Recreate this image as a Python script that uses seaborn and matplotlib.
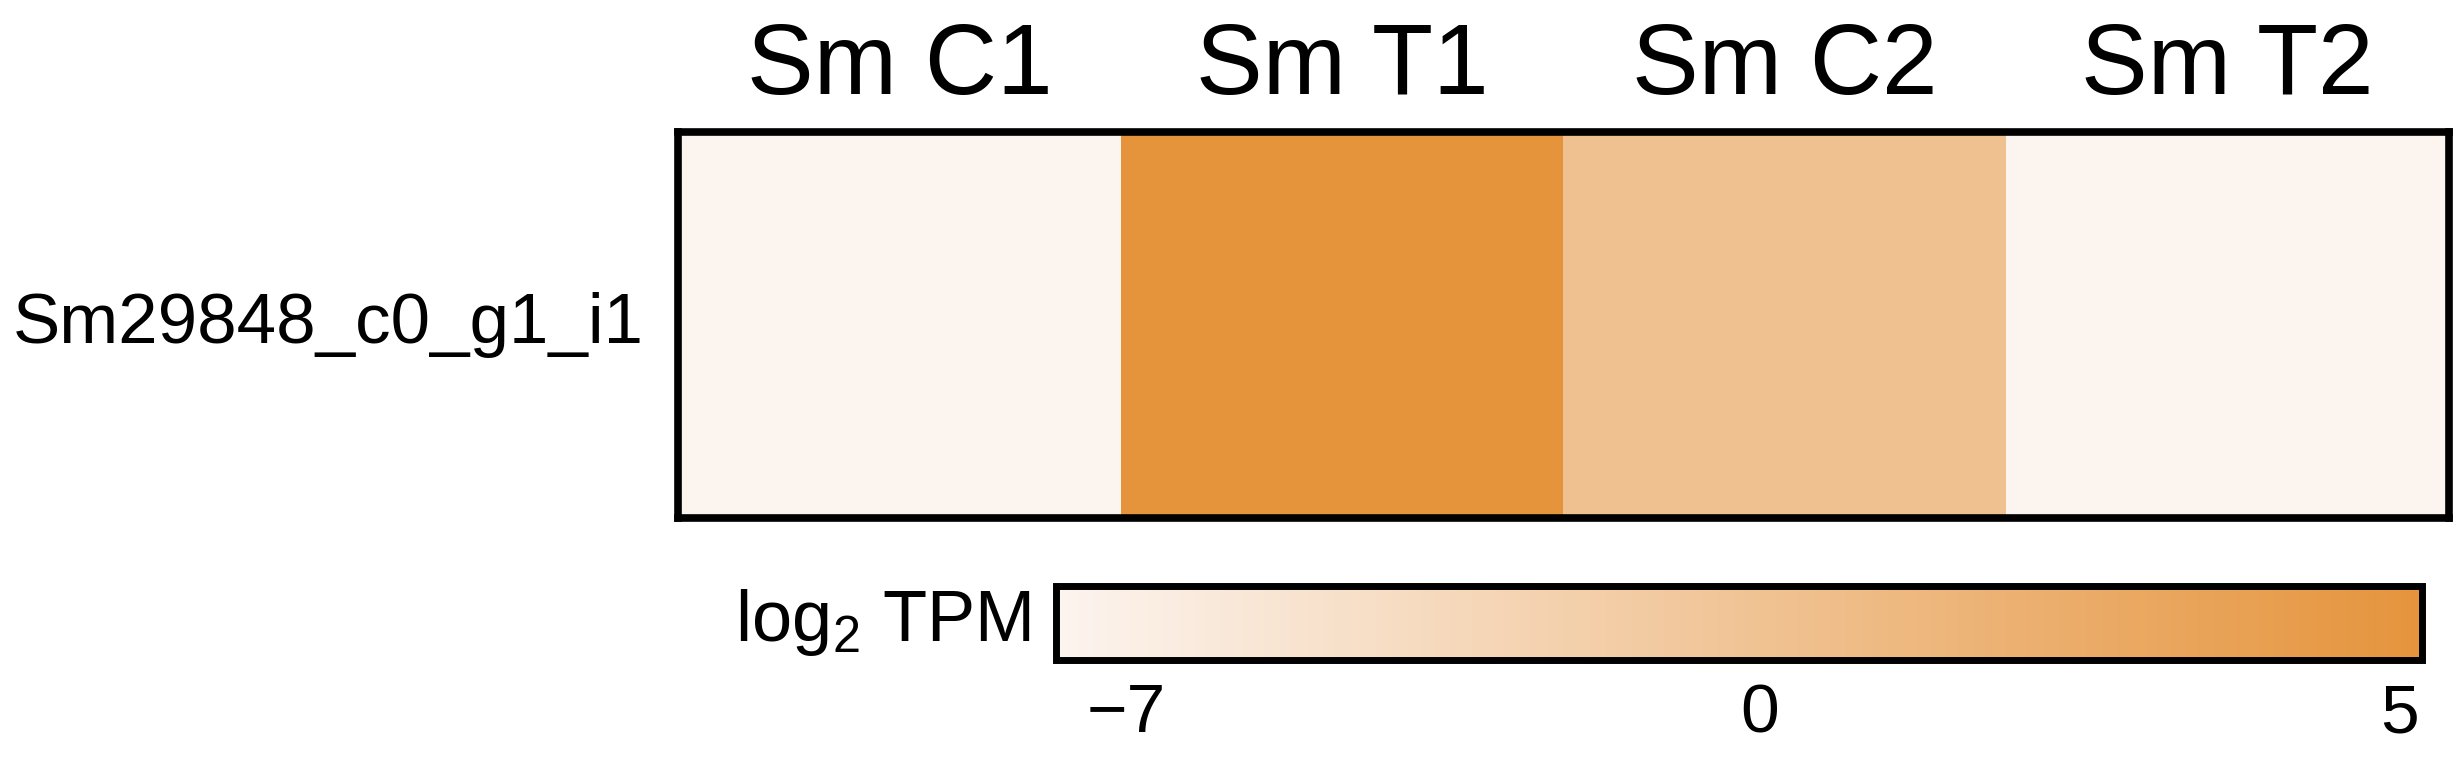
import matplotlib
matplotlib.use("Agg")
import matplotlib.pyplot as plt
from matplotlib.colors import LinearSegmentedColormap, TwoSlopeNorm
import pandas as pd
import seaborn as sns

samples = ["Sm C1", "Sm T1", "Sm C2", "Sm T2"]
genes = ["Sm29848_c0_g1_i1"]
log2_tpm = [-7.8, 5.2, 0.2, -7.8]
cbar_ticks = [-7, 0, 5]
cbar_ticklabels = ["\u22127", "0", "5"]

sns.set_style("white")
plt.rcParams["font.family"] = ["Liberation Sans", "DejaVu Sans"]
plt.rcParams["text.color"] = "black"
plt.rcParams["xtick.color"] = "black"
plt.rcParams["ytick.color"] = "black"
plt.rcParams["axes.labelcolor"] = "black"
plt.rcParams["mathtext.fontset"] = "custom"
plt.rcParams["mathtext.rm"] = "Liberation Sans"
plt.rcParams["mathtext.default"] = "regular"

frame = pd.DataFrame([log2_tpm], index=genes, columns=samples)
cmap = LinearSegmentedColormap.from_list("tpm", ["#FCF4EF", "#E5943C"])
# piecewise scale so the legend ticks sit where the original ones do
norm = TwoSlopeNorm(vmin=-7.78, vcenter=-0.16, vmax=5.18)

fig = plt.figure(figsize=(24.61, 7.6), dpi=100)
ax = fig.add_axes([0.2755, 0.3184, 0.9951 - 0.2755, 0.8263 - 0.3184])
cax = fig.add_axes([0.4291, 0.1316, 0.5551, 0.0974])

sns.heatmap(frame, ax=ax, cmap=cmap, norm=norm, cbar_ax=cax,
            cbar_kws={"orientation": "horizontal", "ticks": cbar_ticks})

# heatmap frame + labels
for s in ax.spines.values():
    s.set_visible(True)
    s.set_linewidth(5.5)
    s.set_color("black")
ax.xaxis.tick_top()
ax.tick_params(axis="x", length=0, pad=12, labelsize=72)
ax.tick_params(axis="y", length=0, pad=25, labelsize=51)
ax.set_yticklabels(genes, rotation=0, va="center")
ax.set_xticklabels(samples, rotation=0)
ax.set_xlabel("")
ax.set_ylabel("")

# colorbar
cbar = ax.collections[0].colorbar
cbar.outline.set_linewidth(5)
cbar.outline.set_edgecolor("black")
cbar.set_ticks(cbar_ticks)
cbar.set_ticklabels(cbar_ticklabels)
cax.tick_params(axis="x", length=0, pad=16, labelsize=50)
cax.set_ylabel("log$_2$ TPM", rotation=0, ha="right", va="center", fontsize=52, labelpad=18)

fig.savefig("out.png", dpi=100)
